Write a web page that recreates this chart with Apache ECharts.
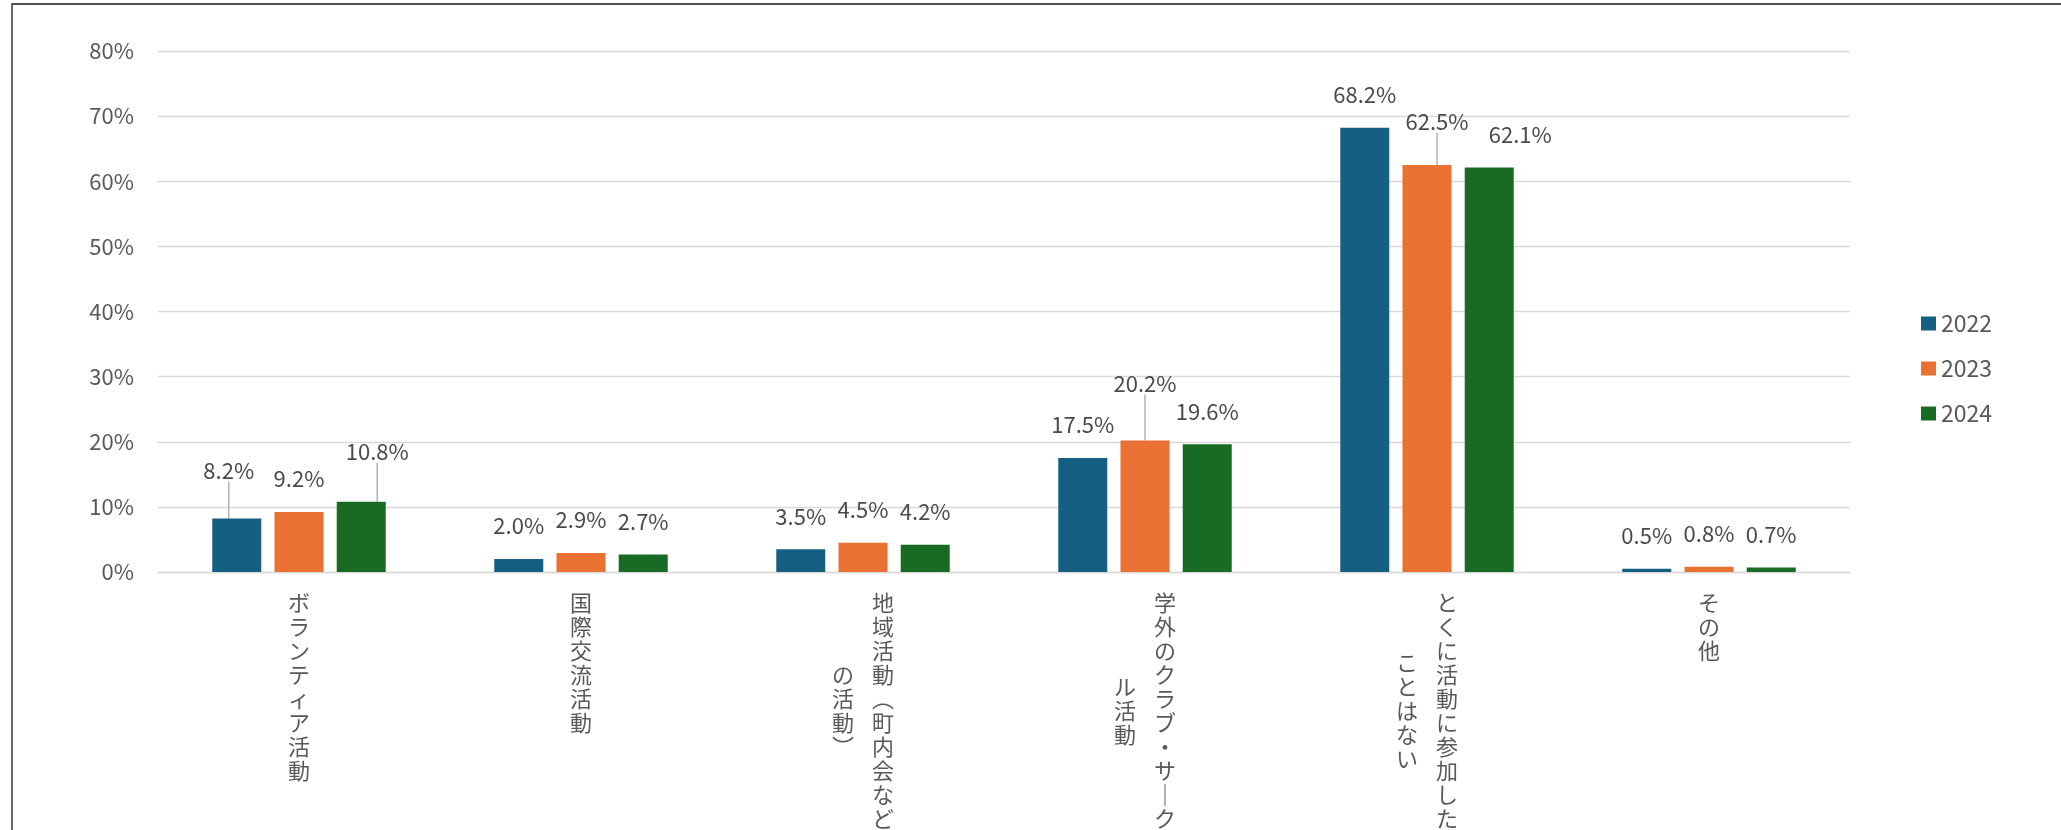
<!DOCTYPE html>
<html>
<head>
<meta charset="utf-8">
<script src="https://cdn.jsdelivr.net/npm/echarts@6/dist/echarts.min.js"></script>
<style>html,body{margin:0;padding:0;background:#fff;}#c{width:2061px;height:830px;}</style>
</head>
<body>
<div id="c"></div>
<script>
const categories = ['ボランティア活動', '国際交流活動', '地域活動（町内会などの活動）', '学外のクラブ・サークル活動', 'とくに活動に参加したことはない', 'その他'];
const years = ['2022', '2023', '2024'];
const v2022 = [8.2, 2.0, 3.5, 17.5, 68.2, 0.5];
const v2023 = [9.2, 2.9, 4.5, 20.2, 62.5, 0.8];
const v2024 = [10.8, 2.7, 4.2, 19.6, 62.1, 0.7];
const yMin = 0, yMax = 80, yStep = 10;

const colors = ['#156082', '#E97132', '#196B24'];
const FONT = '"Noto Sans CJK JP", "Noto Sans", sans-serif';

// label offsets (series-dataIndex -> [dx, dy]) and which get leader lines
const labelShift = {'0-0': [-8, -15], '2-0': [16, -17], '1-3': [0, -24], '1-4': [10, -10], '2-4': [31, 0]};
const leader = {'0-0': 1, '2-0': 1, '1-3': 1, '1-4': 1};

// vertical (tategaki) rendering of category labels
const VMAP = {'（': '︵', '）': '︶', 'ー': '｜'};
function vert(label) {
  const chars = Array.from(label).map(c => VMAP[c] || c);
  const cols = [];
  for (let i = 0; i < chars.length; i += 10) cols.push(chars.slice(i, i + 10));
  const rows = cols[0].length;
  const H = rows * 2;
  const lines = [];
  for (let h = 0; h < H; h++) {
    const parts = [];
    for (let k = cols.length - 1; k >= 0; k--) {
      const off = rows - cols[k].length;
      const idx = h - off;
      let ch = '　';
      if (idx >= 0 && idx % 2 === 0 && idx / 2 < cols[k].length) ch = cols[k][idx / 2];
      parts.push('{c|' + ch + '}');
    }
    lines.push(parts.join('{g|　}'));
  }
  return lines.join('\n');
}

function mkSeries(name, vals, si) {
  return {
    name: name,
    type: 'bar',
    barWidth: 49,
    barGap: '27%',
    itemStyle: {color: colors[si]},
    data: vals.map((v, i) => ({value: v, labelLine: {show: !!leader[si + '-' + i]}})),
    label: {
      show: true, position: 'top', distance: 22,
      formatter: p => p.value.toFixed(1) + '%',
      fontSize: 22, color: '#4a4a4a', fontFamily: FONT
    },
    labelLine: {show: false, lineStyle: {color: '#a6a6a6', width: 1.3}},
    labelLayout: function (p) {
      const s = labelShift[si + '-' + p.dataIndex];
      return s ? {dx: s[0], dy: s[1]} : {};
    }
  };
}

const chart = echarts.init(document.getElementById('c'));
chart.setOption({
  animation: false,
  backgroundColor: '#fff',
  textStyle: {fontFamily: FONT},
  graphic: [{
    type: 'rect', z: -10, silent: true,
    shape: {x: 12, y: 4, width: 2300, height: 1000},
    style: {fill: 'none', stroke: '#1a1a1a', lineWidth: 1.3}
  }],
  grid: {left: 158, right: 211, top: 51, bottom: 258, containLabel: false, outerBoundsMode: 'none'},
  legend: {
    data: years, orient: 'vertical', left: 1916, top: 307,
    itemWidth: 15, itemHeight: 14, itemGap: 22, icon: 'rect',
    textStyle: {fontSize: 23, color: '#595959', fontFamily: FONT}
  },
  xAxis: {
    type: 'category', data: categories,
    axisLine: {lineStyle: {color: '#d9d9d9', width: 1.3}},
    axisTick: {show: false},
    axisLabel: {
      interval: 0, margin: 25, formatter: vert,
      rich: {
        c: {fontSize: 22, lineHeight: 12, color: '#595959', fontFamily: FONT},
        g: {fontSize: 18, lineHeight: 12, fontFamily: FONT}
      }
    }
  },
  yAxis: {
    type: 'value', min: yMin, max: yMax, interval: yStep,
    axisLine: {show: false}, axisTick: {show: false},
    splitLine: {lineStyle: {color: '#d9d9d9', width: 1.3}},
    axisLabel: {formatter: '{value}%', fontSize: 22, color: '#595959', margin: 24, fontFamily: FONT}
  },
  series: [mkSeries(years[0], v2022, 0), mkSeries(years[1], v2023, 1), mkSeries(years[2], v2024, 2)]
});
</script>
</body>
</html>
